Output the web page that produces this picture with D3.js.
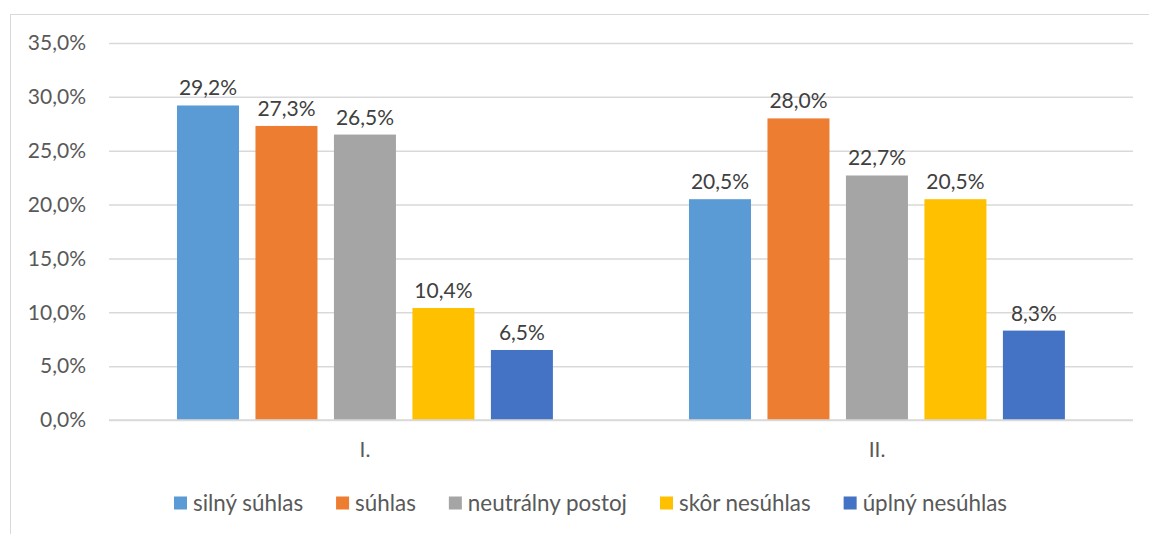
<!DOCTYPE html>
<html><head><meta charset="utf-8">
<script src="https://cdn.jsdelivr.net/npm/d3@7"></script>
<style>body{margin:0;background:#fff;} text{font-family:Lato,"Open Sans",sans-serif;}</style>
</head><body>
<svg id="c" width="1149" height="534"></svg>
<script>
const categories = ["I.", "II."];
const seriesNames = ["silný súhlas", "súhlas", "neutrálny postoj", "skôr nesúhlas", "úplný nesúhlas"];
const seriesColors = ["#5B9BD5", "#ED7D31", "#A5A5A5", "#FFC000", "#4472C4"];
const valuesI = [29.2, 27.3, 26.5, 10.4, 6.5];
const valuesII = [20.5, 28.0, 22.7, 20.5, 8.3];
const tickValues = [0, 5, 10, 15, 20, 25, 30, 35];
const values = [valuesI, valuesII];

const svg = d3.select("#c");
const fmt = v => v.toFixed(1).replace(".", ",") + "%";
const FS = "21px";
const LFS = "22.4px";

svg.append("rect").attr("x", 10.5).attr("y", 14.5).attr("width", 1200).attr("height", 600)
  .attr("fill", "none").attr("stroke", "#d9d9d9").attr("stroke-width", 1);

const y = d3.scaleLinear().domain([0, 35]).range([420, 43]);
const x0 = d3.scaleBand().domain(categories).range([109, 1133]).padding(0);
const bw = x0.bandwidth();
const x1 = d3.scaleBand().domain(seriesNames).range([bw * 0.1328, bw * 0.867]).paddingInner(0.21).paddingOuter(0);

const yAxis = d3.axisLeft(y).tickValues(tickValues).tickSize(-(1133 - 109)).tickFormat(fmt).tickPadding(23);
const ga = svg.append("g").attr("transform", "translate(109,0)").call(yAxis);
ga.select(".domain").remove();
ga.selectAll(".tick line").attr("stroke", "#d9d9d9").attr("stroke-width", 1.5);
ga.selectAll(".tick text").attr("fill", "#595959").style("font-size", FS).style("font-family", "Lato");

const groups = svg.append("g").selectAll("g").data(categories).join("g")
  .attr("transform", d => `translate(${x0(d)},0)`);

groups.each(function(cat, ci) {
  const g = d3.select(this);
  const data = seriesNames.map((s, i) => ({ s, i, v: values[ci][i] }));
  g.selectAll("rect").data(data).join("rect")
    .attr("x", d => x1(d.s)).attr("width", x1.bandwidth())
    .attr("y", d => y(d.v)).attr("height", d => y(0) - y(d.v))
    .attr("fill", d => seriesColors[d.i]);
  g.selectAll("text.lbl").data(data).join("text").attr("class", "lbl")
    .attr("x", d => x1(d.s) + x1.bandwidth() / 2).attr("y", d => y(d.v) - 10)
    .attr("text-anchor", "middle").attr("fill", "#404040").style("font-size", FS)
    .text(d => fmt(d.v));
});

svg.append("line").attr("x1", 109).attr("x2", 1133).attr("y1", y(0)).attr("y2", y(0))
  .attr("stroke", "#d9d9d9").attr("stroke-width", 1.5);
svg.append("g").selectAll("text").data(categories).join("text")
  .attr("x", d => x0(d) + bw / 2).attr("y", 457).attr("text-anchor", "middle")
  .attr("fill", "#595959").style("font-size", FS).text(d => d);

const leg = svg.append("g");
let cx = 0;
const gap = 33;
seriesNames.forEach((s, i) => {
  const g = leg.append("g");
  g.append("rect").attr("x", 0).attr("y", -6.5).attr("width", 13).attr("height", 13).attr("fill", seriesColors[i]);
  const t = g.append("text").attr("x", 19).attr("y", 0).attr("dy", "0.35em").attr("fill", "#595959")
    .style("font-size", LFS).text(s);
  const w = 19 + t.node().getComputedTextLength();
  g.attr("transform", `translate(${cx},0)`);
  cx += w + gap;
});
const total = cx - gap;
leg.attr("transform", `translate(${590.5 - total / 2},503)`);
</script>
</body></html>
